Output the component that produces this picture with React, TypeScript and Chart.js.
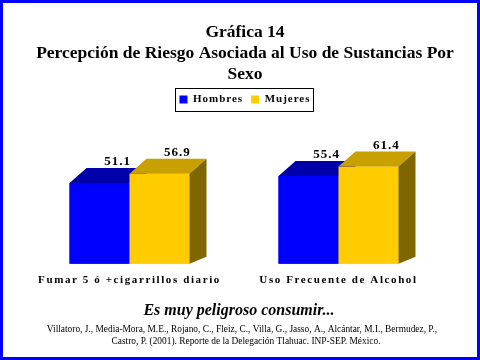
import React, { useEffect, useRef } from 'react';
import { Chart, registerables } from 'chart.js';

Chart.register(...registerables);

// ---- data ----
const categories = ['Fumar 5 ó +cigarrillos diario', 'Uso Frecuente de Alcohol'];
const seriesNames = ['Hombres', 'Mujeres'];
const hombres = [51.1, 55.4];
const mujeres = [56.9, 61.4];
const titleLines = ['Gráfica 14', 'Percepción de Riesgo Asociada al Uso de Sustancias Por', 'Sexo'];
const caption = 'Es muy peligroso consumir...';
const citation = [
  'Villatoro, J., Media-Mora, M.E., Rojano, C., Fleiz, C., Villa, G., Jasso, A., Alcántar, M.I., Bermudez, P.,',
  'Castro, P. (2001). Reporte de la Delegación Tlahuac. INP-SEP. México.',
];

// ---- styles ----
const SERIF = "'Liberation Serif', 'Times New Roman', serif";
const frontColors = ['#0000FF', '#FFCC00'];
const topColors = ['#0000AA', '#C8A000'];
const sideColors = ['#000080', '#806600'];
const DX = 17;
const DY = 15;
const DYB = 7;

const spacingPlugin = {
  id: 'spacing',
  beforeUpdate(chart: any) {
    chart.ctx.letterSpacing = '1px';
  },
  beforeLayout(chart: any) {
    chart.ctx.letterSpacing = '1px';
  },
  afterLayout(chart: any) {
    const t = chart.titleBlock;
    if (t && !t.__wrapped) {
      const orig = t.draw;
      t.draw = function (...a: any[]) {
        const c = this.ctx;
        const p = c.letterSpacing;
        c.letterSpacing = '0px';
        orig.apply(this, a);
        c.letterSpacing = p;
      };
      t.__wrapped = true;
    }
    const xs = chart.scales.x;
    if (xs && !xs.__wrapped) {
      const orig = xs.drawLabels;
      xs.drawLabels = function (...a: any[]) {
        const c = this.ctx;
        const p = c.letterSpacing;
        c.letterSpacing = '1.6px';
        orig.apply(this, a);
        c.letterSpacing = p;
      };
      xs.__wrapped = true;
    }
  },
  beforeDraw(chart: any) {
    chart.ctx.letterSpacing = '1px';
  },
};

const bars3dPlugin = {
  id: 'bars3d',
  afterDatasetsDraw(chart: any) {
    const ctx = chart.ctx;
    ctx.save();
    const poly = (pts: number[][]) => {
      ctx.beginPath();
      ctx.moveTo(pts[0][0], pts[0][1]);
      for (let i = 1; i < pts.length; i++) ctx.lineTo(pts[i][0], pts[i][1]);
      ctx.closePath();
      ctx.fill();
    };
    chart.data.datasets.forEach((ds: any, di: number) => {
      const meta = chart.getDatasetMeta(di);
      meta.data.forEach((el: any) => {
        const { x, y, base, width } = el.getProps(['x', 'y', 'base', 'width'], true);
        const L = x - width / 2;
        const R = x + width / 2;
        ctx.fillStyle = frontColors[di];
        ctx.fillRect(L, y, width, base - y);
        ctx.fillStyle = topColors[di];
        poly([[L, y], [R, y], [R + DX, y - DY], [L + DX, y - DY]]);
        ctx.fillStyle = sideColors[di];
        poly([[R, y], [R + DX, y - DY], [R + DX, base - DYB], [R, base]]);
      });
    });
    ctx.letterSpacing = '1px';
    ctx.font = `bold 13px ${SERIF}`;
    ctx.fillStyle = '#000';
    ctx.textAlign = 'center';
    ctx.textBaseline = 'alphabetic';
    chart.data.datasets.forEach((ds: any, di: number) => {
      const meta = chart.getDatasetMeta(di);
      meta.data.forEach((el: any, i: number) => {
        const { x, y } = el.getProps(['x', 'y'], true);
        ctx.fillText(Number(ds.data[i]).toFixed(1), x + 18, y - 18);
      });
    });
    ctx.restore();
  },
  afterDraw(chart: any) {
    const ctx = chart.ctx;
    ctx.save();
    ctx.letterSpacing = '0px';
    // legend frame
    const lg = chart.legend;
    if (lg && lg.lineWidths) {
      const pad = lg.options.labels.padding;
      const w = lg.lineWidths[0] - pad;
      const cx = (lg.left + lg.right) / 2;
      const cy = lg.top + pad + 5.5;
      ctx.strokeStyle = '#000';
      ctx.lineWidth = 1;
      ctx.strokeRect(Math.round(cx - w / 2 - 4) + 0.5, Math.round(cy - 11.5) + 0.5, Math.round(w + 7), 23);
    }
    // caption and citation
    ctx.fillStyle = '#000';
    ctx.textAlign = 'center';
    ctx.textBaseline = 'middle';
    ctx.font = `bold italic 16px ${SERIF}`;
    ctx.fillText(caption, 239, 311);
    ctx.font = `9.4px ${SERIF}`;
    ctx.fillText(citation[0], 242, 330);
    ctx.fillText(citation[1], 246, 342);
    // blue frame
    ctx.strokeStyle = '#0000FF';
    ctx.lineWidth = 3;
    ctx.strokeRect(1.5, 1.5, chart.width - 3, chart.height - 3);
    ctx.restore();
  },
};

export default function App() {
  const ref = useRef<HTMLCanvasElement | null>(null);
  useEffect(() => {
    if (!ref.current) return;
    const chart = new Chart(ref.current, {
      type: 'bar',
      data: {
        labels: categories,
        datasets: [
          { label: seriesNames[0], data: hombres, backgroundColor: frontColors[0], borderWidth: 0, categoryPercentage: 0.574, barPercentage: 1 },
          { label: seriesNames[1], data: mujeres, backgroundColor: frontColors[1], borderWidth: 0, categoryPercentage: 0.574, barPercentage: 1 },
        ],
      },
      options: {
        responsive: false,
        animation: false,
        events: [],
        layout: { padding: { left: 25, right: 15, top: 0, bottom: 63 } },
        plugins: {
          tooltip: { enabled: false },
          title: {
            display: true,
            text: titleLines,
            color: '#000',
            font: { family: SERIF, size: 17.5, weight: 'bold', lineHeight: 1.2 },
            padding: { top: 21.5, bottom: 1.5 },
          },
          legend: {
            display: true,
            position: 'top',
            labels: {
              boxWidth: 8,
              boxHeight: 8,
              padding: 8,
              color: '#000',
              font: { family: SERIF, size: 11, weight: 'bold' },
            },
          },
        },
        scales: {
          x: {
            grid: { display: false, drawTicks: false },
            border: { display: false },
            ticks: { color: '#000', font: { family: SERIF, size: 11, weight: 'bold' }, padding: 10, maxRotation: 0, autoSkip: false },
          },
          y: {
            position: 'right',
            min: 0,
            max: 94,
            grid: { display: false, drawTicks: false },
            border: { display: false },
            ticks: { display: false },
            afterFit: (s: any) => {
              s.width = 22;
            },
          },
        },
      },
      plugins: [spacingPlugin, bars3dPlugin],
    } as any);
    return () => chart.destroy();
  }, []);
  return (
    <div style={{ position: 'fixed', left: 0, top: 0, width: 480, height: 360, background: '#fff' }}>
      <canvas ref={ref} width={480} height={360} style={{ display: 'block' }} />
    </div>
  );
}
